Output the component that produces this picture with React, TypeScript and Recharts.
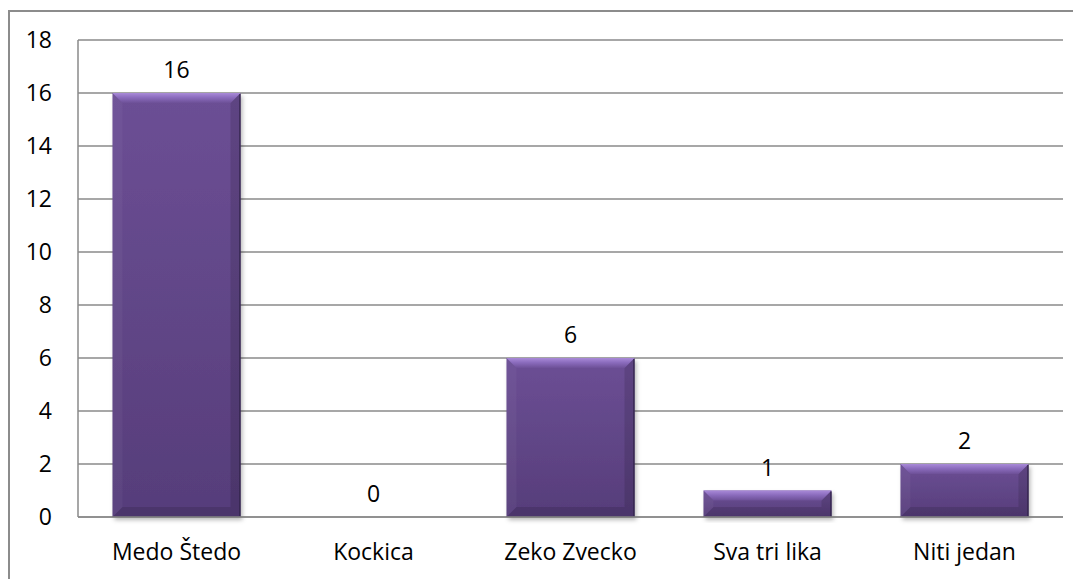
import { BarChart, Bar, XAxis, YAxis, CartesianGrid, LabelList } from "recharts";

const categories = ["Medo Štedo", "Kockica", "Zeko Zvecko", "Sva tri lika", "Niti jedan"];
const counts = [16, 0, 6, 1, 2];
const yTicks = [0, 2, 4, 6, 8, 10, 12, 14, 16, 18];

const data = categories.map((name, i) => ({ name, value: counts[i] }));

const FONT = "'Open Sans', 'Liberation Sans', sans-serif";

const BevelBar = (props: any) => {
  const { x, y, width: w, height: h, index } = props;
  if (!h || h <= 0) return null;
  const b = Math.min(10, h / 2, w / 2);
  const id = `bar${index}`;
  return (
    <g>
      <defs>
        <linearGradient id={`${id}-body`} x1="0" y1="0" x2="0" y2="1">
          <stop offset="0%" stopColor="#6c4f95" />
          <stop offset="100%" stopColor="#563d7a" />
        </linearGradient>
        <linearGradient id={`${id}-top`} x1="0" y1="0" x2="0" y2="1">
          <stop offset="0%" stopColor="#a98ad8" />
          <stop offset="45%" stopColor="#8b6cbd" />
          <stop offset="100%" stopColor="#6d5097" />
        </linearGradient>
        <filter id={`${id}-sh`} x="-10%" y="-10%" width="130%" height="130%">
          <feDropShadow dx="2" dy="3" stdDeviation="2" floodColor="#000" floodOpacity="0.28" />
        </filter>
      </defs>
      <rect x={x} y={y} width={w} height={h} fill={`url(#${id}-body)`} filter={`url(#${id}-sh)`} />
      {/* bevel edges */}
      <polygon points={`${x},${y} ${x + b},${y + b} ${x + b},${y + h - b} ${x},${y + h}`} fill="#fff" opacity={0.04} />
      <polygon points={`${x + w},${y} ${x + w - b},${y + b} ${x + w - b},${y + h - b} ${x + w},${y + h}`} fill="#000" opacity={0.12} />
      <polygon points={`${x},${y + h} ${x + b},${y + h - b} ${x + w - b},${y + h - b} ${x + w},${y + h}`} fill="#000" opacity={0.12} />
      <polygon points={`${x},${y} ${x + w},${y} ${x + w - b},${y + b} ${x + b},${y + b}`} fill={`url(#${id}-top)`} />
      <line x1={x + w - 0.5} y1={y + 1} x2={x + w - 0.5} y2={y + h} stroke="#2e2046" strokeWidth={1.2} />
      <line x1={x} y1={y + h - 0.5} x2={x + w} y2={y + h - 0.5} stroke="#3a2856" strokeWidth={1} />
    </g>
  );
};

export default function App() {
  return (
    <div
      style={{
        marginTop: 2,
        width: 1071,
        height: 567,
        borderTop: "2px solid #8c8c8c",
        borderLeft: "2px solid #8c8c8c",
        fontFamily: FONT,
      }}
    >
      <BarChart
        width={1071}
        height={567}
        data={data}
        margin={{ top: 28, right: 18, left: 0, bottom: 12 }}
        barCategoryGap="17.5%"
      >
        <CartesianGrid vertical={false} stroke="#8a8a8a" strokeWidth={1.5} />
        <XAxis
          dataKey="name"
          height={50}
          tickLine={false}
          axisLine={{ stroke: "#8a8a8a", strokeWidth: 1.5 }}
          tick={{ fill: "#000", fontSize: 23, fontFamily: FONT }}
          tickMargin={21}
          interval={0}
        />
        <YAxis
          width={68}
          domain={[0, 18]}
          ticks={yTicks}
          tickLine={false}
          axisLine={{ stroke: "#8a8a8a", strokeWidth: 1.5 }}
          tick={{ fill: "#000", fontSize: 23, fontFamily: FONT }}
          tickMargin={20}
        />
        <Bar dataKey="value" shape={<BevelBar />} isAnimationActive={false}>
          <LabelList dataKey="value" position="top" offset={15} fill="#000" fontSize={23} fontFamily={FONT} />
        </Bar>
      </BarChart>
    </div>
  );
}
